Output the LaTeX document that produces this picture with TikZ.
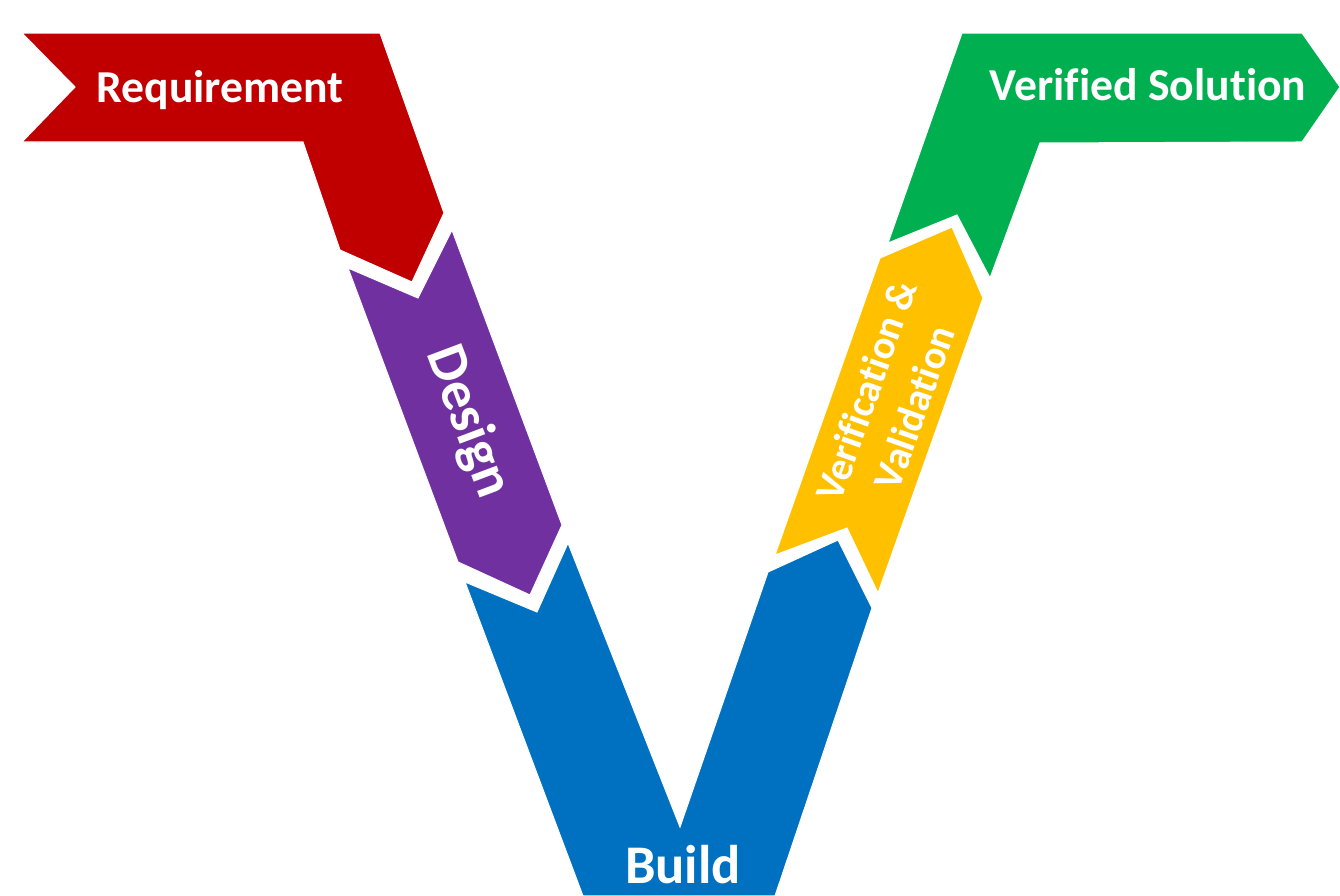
\documentclass[tikz,border=0pt]{standalone}
\usepackage{fontspec}
\setmainfont{Carlito}[Ligatures=NoCommon]
\usetikzlibrary{positioning}
\definecolor{vred}{HTML}{C00000}
\definecolor{vpurple}{HTML}{7030A0}
\definecolor{vblue}{HTML}{0070C0}
\definecolor{vyellow}{HTML}{FFC000}
\definecolor{vgreen}{HTML}{00B050}
\tikzset{
  vband/.style={draw=white, line width=0.6pt, line join=miter},
  vlabel/.style={text=white, inner sep=0pt, font=\bfseries},
  every picture/.style={line cap=round},
}

\begin{document}
\begin{tikzpicture}[x=0.02cm, y=-0.02cm]
\useasboundingbox (0,0) rectangle (1340,896);

% Left leg: requirement flag, then design chevron.
\fill[vband, fill=vred] (22,33) -- (380,33) -- (444,213) -- (412,282)
  -- (340,250) -- (303,142) -- (22,142) -- (75,87) -- cycle;
\fill[vband, fill=vpurple] (348,268) -- (418,298) -- (452,230)
  -- (562,525) -- (530,595) -- (458,562) -- cycle;

% The build V at the bottom.
\fill[vband, fill=vblue] (465,582) -- (537,612) -- (568,543)
  -- (680,827) -- (768,572) -- (838,540) -- (872,608)
  -- (775,896) -- (583,896) -- cycle;

% Right leg: verification chevron, then solution flag.
\fill[vband, fill=vyellow] (775,555) -- (847,528) -- (878,593)
  -- (983,298) -- (952,227) -- (880,258) -- cycle;
\fill[vband, fill=vgreen] (962,33) -- (1302,33) -- (1340,87)
  -- (1302,142) -- (1040,143) -- (990,278) -- (957,215)
  -- (888,243) -- cycle;

% Labels.
\node[vlabel, anchor=base, font=\bfseries\fontsize{26}{30}\selectfont]
  (req) at (220,102) {Requirement};
\node[vlabel, rotate=-69.4, font=\bfseries\fontsize{32}{36}\selectfont]
  (design) at (468,422) {Design};
\node[vlabel, anchor=base, font=\bfseries\fontsize{31}{36}\selectfont]
  (build) at (683,883) {Build};
\node[vlabel, rotate=70.5, align=center,
      font=\bfseries\fontsize{23}{29}\selectfont]
  (vandv) at (890,399) {Verification \&\\Validation};
\node[vlabel, anchor=base, font=\bfseries\fontsize{26}{30}\selectfont]
  (solution) at (1148,100) {Verified Solution};

\end{tikzpicture}
\end{document}
